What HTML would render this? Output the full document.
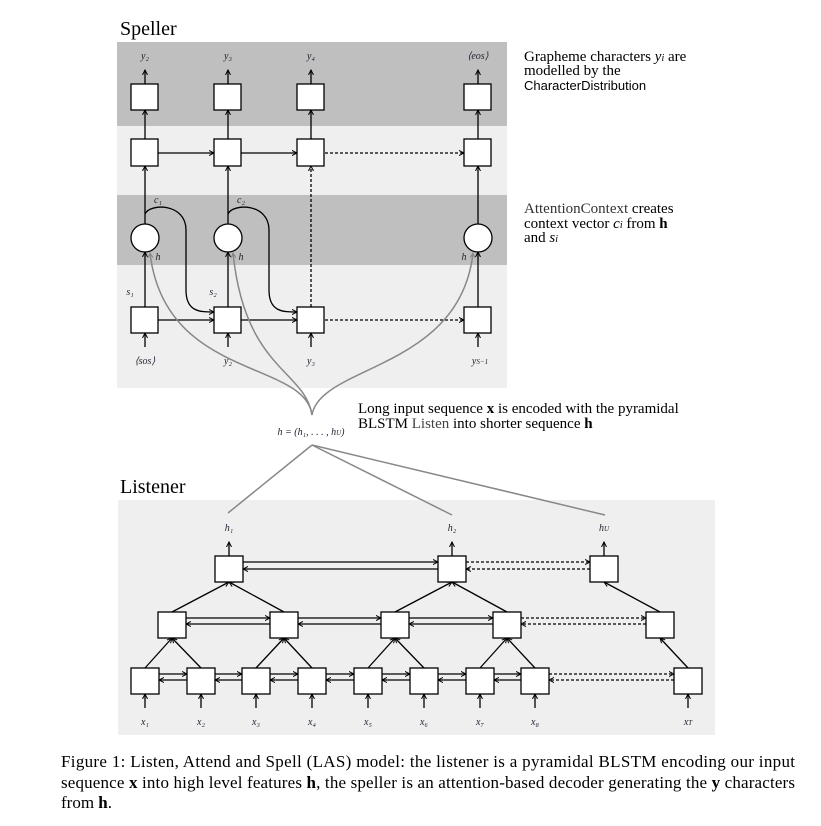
<!DOCTYPE html>
<html><head><meta charset="utf-8"><style>
body{margin:0;background:#fff;}
svg{display:block;font-family:"Liberation Serif",serif;}
.m{font-style:italic;font-size:10px;fill:#223;}
.t{font-size:15px;fill:#000;}
</style></head><body>
<svg width="821" height="826" viewBox="0 0 821 826" xmlns="http://www.w3.org/2000/svg">
<defs>
<marker id="a" markerWidth="6" markerHeight="6" refX="5" refY="3" orient="auto" markerUnits="userSpaceOnUse"><path d="M0,0.5 L5,3 L0,5.5" fill="none" stroke="#000" stroke-width="1"/></marker>
<marker id="g" markerWidth="6" markerHeight="6" refX="5" refY="3" orient="auto" markerUnits="userSpaceOnUse"><path d="M0,0.5 L5,3 L0,5.5" fill="none" stroke="#888" stroke-width="1"/></marker>
</defs>
<rect x="117" y="42" width="390" height="84" fill="#bfbfbf"/>
<rect x="117" y="126" width="390" height="69" fill="#efefef"/>
<rect x="117" y="195" width="390" height="70" fill="#bfbfbf"/>
<rect x="117" y="265" width="390" height="123" fill="#efefef"/>
<text x="120" y="35" style="font-size:20px">Speller</text>
<g stroke="#000" stroke-width="1.3" fill="none">
<g marker-end="url(#a)">
<line x1="145" y1="84" x2="145" y2="70"/><line x1="228" y1="84" x2="228" y2="70"/><line x1="311" y1="84" x2="311" y2="70"/><line x1="478" y1="84" x2="478" y2="70"/>
<line x1="145" y1="139" x2="145" y2="110"/><line x1="228" y1="139" x2="228" y2="110"/><line x1="311" y1="139" x2="311" y2="110"/><line x1="478" y1="139" x2="478" y2="110"/>
<line x1="145" y1="224" x2="145" y2="166"/><line x1="228" y1="224" x2="228" y2="166"/><line x1="478" y1="224" x2="478" y2="166"/>
<line x1="311" y1="307" x2="311" y2="166" stroke-dasharray="3,2"/>
<line x1="145" y1="307" x2="145" y2="252"/><line x1="228" y1="307" x2="228" y2="252"/><line x1="478" y1="307" x2="478" y2="252"/>
<line x1="145" y1="347" x2="145" y2="333"/><line x1="228" y1="347" x2="228" y2="333"/><line x1="311" y1="347" x2="311" y2="333"/><line x1="478" y1="347" x2="478" y2="333"/>
<line x1="158" y1="153" x2="214" y2="153"/><line x1="241" y1="153" x2="297" y2="153"/><line x1="325" y1="153" x2="464" y2="153" stroke-dasharray="3,2"/>
<line x1="158" y1="320" x2="214" y2="320"/><line x1="241" y1="320" x2="297" y2="320"/><line x1="325" y1="320" x2="464" y2="320" stroke-dasharray="3,2"/>
<path d="M145,214 C150,203 186,203 186,230 L186,290 C186,312 200,312 214,312"/>
<path d="M228,214 C233,203 269,203 269,230 L269,290 C269,312 283,312 297,312"/>
</g>
<g fill="#fff">
<rect x="131" y="84" width="27" height="26"/><rect x="214" y="84" width="27" height="26"/><rect x="297" y="84" width="27" height="26"/><rect x="464" y="84" width="27" height="26"/>
<rect x="131" y="139" width="27" height="27"/><rect x="214" y="139" width="27" height="27"/><rect x="297" y="139" width="27" height="27"/><rect x="464" y="139" width="27" height="27"/>
<rect x="131" y="307" width="27" height="26"/><rect x="214" y="307" width="27" height="26"/><rect x="297" y="307" width="27" height="26"/><rect x="464" y="307" width="27" height="26"/>
<circle cx="145" cy="238" r="14"/><circle cx="228" cy="238" r="14"/><circle cx="478" cy="238" r="14"/>
</g>
</g>
<g stroke="#888" stroke-width="1.5" fill="none" marker-end="url(#g)">
<path d="M312,415 C305,360 165,380 150,253"/>
<path d="M312,415 C305,370 245,370 233,253"/>
<path d="M312,415 C320,365 460,370 473,253"/>
</g>
<g class="m" text-anchor="middle">
<text x="145" y="59">y₂</text><text x="228" y="59">y₃</text><text x="311" y="59">y₄</text><text x="478" y="59">⟨eos⟩</text>
<text x="145" y="364">⟨sos⟩</text><text x="228" y="364">y₂</text><text x="311" y="364">y₃</text><text x="480" y="364">y<tspan font-size="7">S−1</tspan></text>
<text x="158" y="203">c₁</text><text x="241" y="203">c₂</text>
<text x="130" y="295">s₁</text><text x="213" y="295">s₂</text>
<text x="158" y="260">h</text><text x="241" y="260">h</text><text x="464" y="260">h</text>
<text x="311" y="435">h = (h₁, . . . , h<tspan font-size="7">U</tspan>)</text>
</g>
<text class="t" x="524" y="61">Grapheme characters <tspan font-style="italic">y<tspan font-size="10">i</tspan></tspan> are</text>
<text class="t" x="524" y="75">modelled by the</text>
<text class="t" x="524" y="90" fill="#333" style="font-family:'Liberation Sans',sans-serif;font-size:13px">CharacterDistribution</text>
<text class="t" x="524" y="213"><tspan fill="#333">AttentionContext</tspan> creates</text>
<text class="t" x="524" y="228">context vector <tspan font-style="italic">c<tspan font-size="10">i</tspan></tspan> from <tspan font-weight="bold">h</tspan></text>
<text class="t" x="524" y="242">and <tspan font-style="italic">s<tspan font-size="10">i</tspan></tspan></text>
<text class="t" x="358" y="413">Long input sequence <tspan font-weight="bold">x</tspan> is encoded with the pyramidal</text>
<text class="t" x="358" y="428">BLSTM <tspan fill="#444">Listen</tspan> into shorter sequence <tspan font-weight="bold">h</tspan></text>
<rect x="118" y="500" width="597" height="235" fill="#efefef"/>
<text x="120" y="493" style="font-size:20px">Listener</text>
<g stroke="#888" stroke-width="1.5"><line x1="312" y1="445" x2="228" y2="513"/><line x1="312" y1="445" x2="452" y2="515"/><line x1="312" y1="445" x2="605" y2="515"/></g>
<g stroke="#000" stroke-width="1.3" fill="none">
<g marker-end="url(#a)">
<line x1="229" y1="556" x2="229" y2="542"/><line x1="452" y1="556" x2="452" y2="542"/><line x1="604" y1="556" x2="604" y2="542"/>
<line x1="243" y1="562" x2="438" y2="562"/><line x1="438" y1="569" x2="243" y2="569"/>
<line x1="466" y1="562" x2="590" y2="562" stroke-dasharray="3,2"/><line x1="590" y1="569" x2="466" y2="569" stroke-dasharray="3,2"/>
<line x1="172" y1="612" x2="229" y2="582"/><line x1="284" y1="612" x2="229" y2="582"/>
<line x1="395" y1="612" x2="452" y2="582"/><line x1="507" y1="612" x2="452" y2="582"/>
<line x1="660" y1="612" x2="604" y2="582"/>
<line x1="186" y1="618" x2="270" y2="618"/><line x1="270" y1="624" x2="186" y2="624"/>
<line x1="298" y1="618" x2="381" y2="618"/><line x1="381" y1="624" x2="298" y2="624"/>
<line x1="409" y1="618" x2="493" y2="618"/><line x1="493" y1="624" x2="409" y2="624"/>
<line x1="521" y1="618" x2="646" y2="618" stroke-dasharray="3,2"/><line x1="646" y1="624" x2="521" y2="624" stroke-dasharray="3,2"/>
<line x1="145" y1="668" x2="172" y2="638"/><line x1="201" y1="668" x2="172" y2="638"/>
<line x1="256" y1="668" x2="284" y2="638"/><line x1="312" y1="668" x2="284" y2="638"/>
<line x1="368" y1="668" x2="395" y2="638"/><line x1="424" y1="668" x2="395" y2="638"/>
<line x1="480" y1="668" x2="507" y2="638"/><line x1="535" y1="668" x2="507" y2="638"/>
<line x1="688" y1="668" x2="660" y2="638"/>
<line x1="159" y1="674" x2="187" y2="674"/><line x1="187" y1="680" x2="159" y2="680"/>
<line x1="215" y1="674" x2="242" y2="674"/><line x1="242" y1="680" x2="215" y2="680"/>
<line x1="270" y1="674" x2="298" y2="674"/><line x1="298" y1="680" x2="270" y2="680"/>
<line x1="326" y1="674" x2="354" y2="674"/><line x1="354" y1="680" x2="326" y2="680"/>
<line x1="382" y1="674" x2="410" y2="674"/><line x1="410" y1="680" x2="382" y2="680"/>
<line x1="438" y1="674" x2="466" y2="674"/><line x1="466" y1="680" x2="438" y2="680"/>
<line x1="494" y1="674" x2="521" y2="674"/><line x1="521" y1="680" x2="494" y2="680"/>
<line x1="549" y1="674" x2="674" y2="674" stroke-dasharray="3,2"/><line x1="674" y1="680" x2="549" y2="680" stroke-dasharray="3,2"/>
<line x1="145" y1="708" x2="145" y2="694"/><line x1="201" y1="708" x2="201" y2="694"/><line x1="256" y1="708" x2="256" y2="694"/><line x1="312" y1="708" x2="312" y2="694"/><line x1="368" y1="708" x2="368" y2="694"/><line x1="424" y1="708" x2="424" y2="694"/><line x1="480" y1="708" x2="480" y2="694"/><line x1="535" y1="708" x2="535" y2="694"/><line x1="688" y1="708" x2="688" y2="694"/>
</g>
<g fill="#fff">
<rect x="215" y="556" width="28" height="26"/><rect x="438" y="556" width="28" height="26"/><rect x="590" y="556" width="28" height="26"/>
<rect x="158" y="612" width="28" height="26"/><rect x="270" y="612" width="28" height="26"/><rect x="381" y="612" width="28" height="26"/><rect x="493" y="612" width="28" height="26"/><rect x="646" y="612" width="28" height="26"/>
<rect x="131" y="668" width="28" height="26"/><rect x="187" y="668" width="28" height="26"/><rect x="242" y="668" width="28" height="26"/><rect x="298" y="668" width="28" height="26"/><rect x="354" y="668" width="28" height="26"/><rect x="410" y="668" width="28" height="26"/><rect x="466" y="668" width="28" height="26"/><rect x="521" y="668" width="28" height="26"/><rect x="674" y="668" width="28" height="26"/>
</g>
</g>
<g class="m" text-anchor="middle">
<text x="229" y="531">h₁</text><text x="452" y="531">h₂</text><text x="604" y="531">h<tspan font-size="7">U</tspan></text>
<text x="145" y="725">x₁</text><text x="201" y="725">x₂</text><text x="256" y="725">x₃</text><text x="312" y="725">x₄</text><text x="368" y="725">x₅</text><text x="424" y="725">x₆</text><text x="480" y="725">x₇</text><text x="535" y="725">x₈</text><text x="688" y="725">x<tspan font-size="7">T</tspan></text>
</g>
<g style="font-size:17px">
<text x="61" y="767" textLength="734" lengthAdjust="spacing">Figure 1:  Listen, Attend and Spell (LAS) model:  the listener is a pyramidal BLSTM encoding our input</text>
<text x="61" y="788" textLength="734" lengthAdjust="spacing">sequence <tspan font-weight="bold">x</tspan> into high level features <tspan font-weight="bold">h</tspan>, the speller is an attention-based decoder generating the <tspan font-weight="bold">y</tspan> characters</text>
<text x="61" y="808">from <tspan font-weight="bold">h</tspan>.</text>
</g>
</svg>
</body></html>
